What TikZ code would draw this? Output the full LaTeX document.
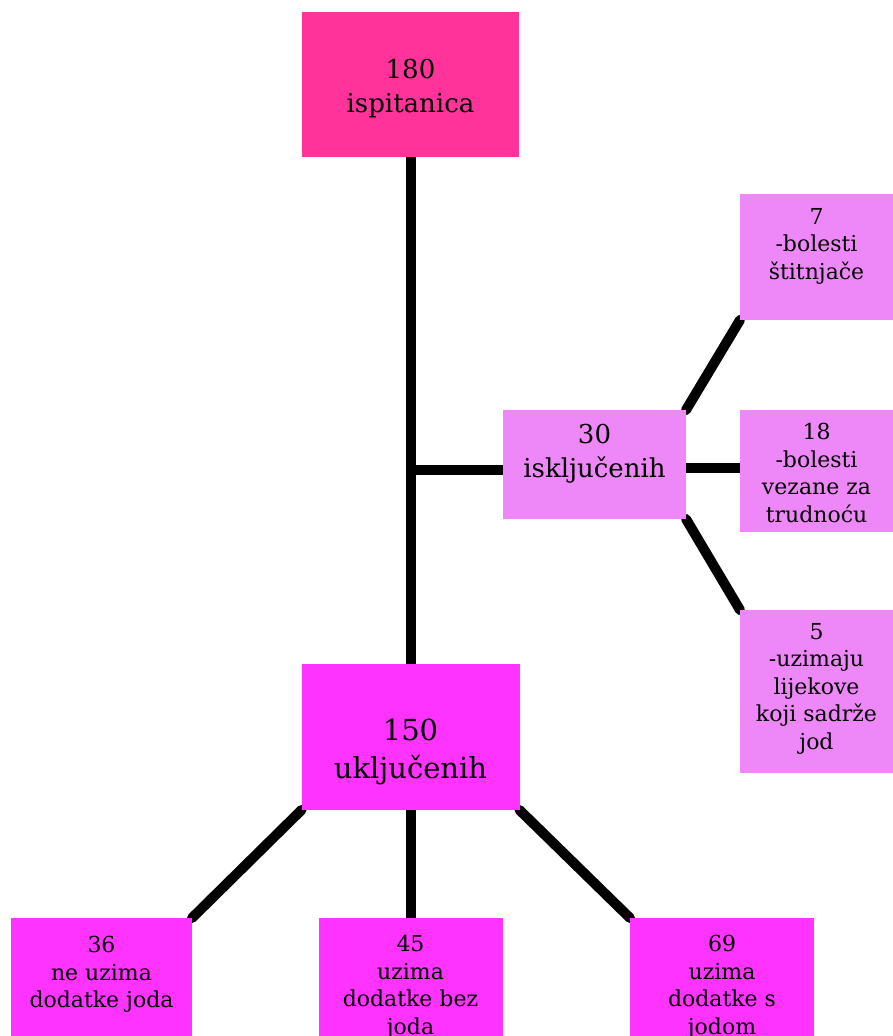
\documentclass[tikz,border=0pt]{standalone}
\usepackage{fontspec}
\setmainfont{DejaVu Serif}
\usetikzlibrary{backgrounds}
\definecolor{hotpink}{HTML}{FF3399}
\definecolor{magbox}{HTML}{FF33FF}
\definecolor{violetbox}{HTML}{EE88F8}
\tikzset{
  box/.style={draw=none, inner sep=0pt, outer sep=0pt},
  txtbig/.style={inner sep=0pt, anchor=north, align=center, font=\fontsize{26}{34}\selectfont},
  txtinc/.style={inner sep=0pt, anchor=north, align=center, font=\fontsize{29}{38}\selectfont},
  txtsmall/.style={inner sep=0pt, anchor=north, align=center, font=\fontsize{22}{27.5}\selectfont},
  conn/.style={line width=10pt, line cap=round, black}
}
\begin{document}
\begin{tikzpicture}[x=1pt, y=-1pt]
\useasboundingbox (0,0) rectangle (893,1036);
\clip (0,0) rectangle (893,1036);
% boxes
\node[box, fill=hotpink, minimum width=217pt, minimum height=145pt] (top) at (410.5,84.5) {};
\node[box, fill=violetbox, minimum width=183pt, minimum height=109pt] (exc) at (594.5,464.5) {};
\node[box, fill=violetbox, minimum width=160pt, minimum height=126pt] (b7) at (820,257) {};
\node[box, fill=violetbox, minimum width=160pt, minimum height=122pt] (b18) at (820,471) {};
\node[box, fill=violetbox, minimum width=160pt, minimum height=163pt] (b5) at (820,691.5) {};
\node[box, fill=magbox, minimum width=218pt, minimum height=146pt] (inc) at (410.5,737) {};
\node[box, fill=magbox, minimum width=181pt, minimum height=140pt] (b36) at (101.5,988) {};
\node[box, fill=magbox, minimum width=184pt, minimum height=140pt] (b45) at (410.5,988) {};
\node[box, fill=magbox, minimum width=184pt, minimum height=140pt] (b69) at (722,988) {};
% texts
\node[txtbig] (ttop) at (410.5,59) {180\\ispitanica};
\node[txtbig] (texc) at (594.5,424) {30\\isključenih};
\node[txtsmall] (t7) at (816.5,208) {7\\-bolesti\\štitnjače};
\node[txtsmall] (t18) at (816.5,423) {18\\-bolesti\\vezane za\\trudnoću};
\node[txtsmall] (t5) at (816.5,623) {5\\-uzimaju\\lijekove\\koji sadrže\\jod};
\node[txtinc] (tinc) at (410.5,719) {150\\uključenih};
\node[txtsmall] (t36) at (101.5,936) {36\\ne uzima\\dodatke joda};
\node[txtsmall] (t45) at (410.5,935) {45\\uzima\\dodatke bez\\joda};
\node[txtsmall] (t69) at (722,935) {69\\uzima\\dodatke s\\jodom};
% connectors
\coordinate (j) at (410.5,470);
\begin{scope}[on background layer]
\draw[conn] (top.south) -- (inc.north);
\draw[conn, line cap=butt] (j) -- (j -| exc.west);
\draw[conn] (exc.north east) -- (b7.south west);
\draw[conn] (exc.east |- 0,468) -- (b18.west |- 0,468);
\draw[conn] (exc.south east) -- (b5.north west);
\draw[conn] (inc.south west) -- (b36.north east);
\draw[conn] (inc.south) -- (b45.north);
\draw[conn] (inc.south east) -- (b69.north west);
\end{scope}
\end{tikzpicture}
\end{document}
